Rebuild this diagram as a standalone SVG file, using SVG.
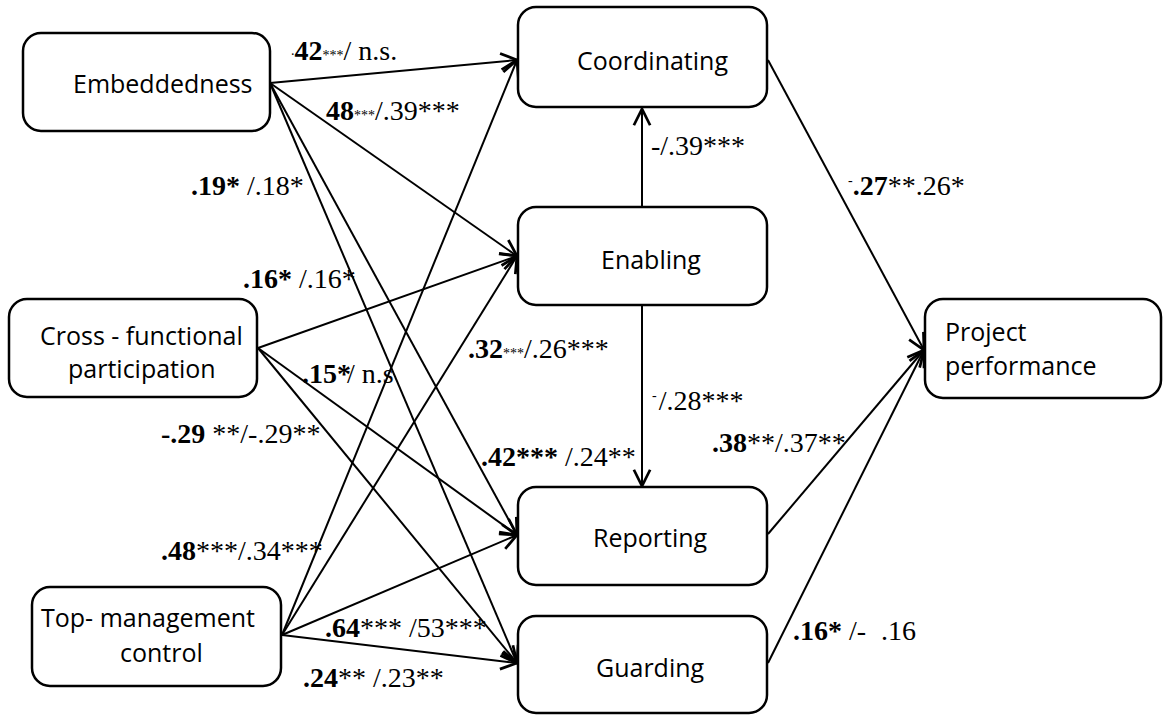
<svg xmlns="http://www.w3.org/2000/svg" width="1163" height="715" viewBox="0 0 1163 715">
<style>
.box{fill:#fff;stroke:#000;stroke-width:2.5}
.nt{font-family:"Open Sans","Noto Sans",sans-serif;font-size:25px;fill:#000}
.edge{stroke:#000;stroke-width:2;fill:none;marker-end:url(#arr)}
.lbl{font-family:"Liberation Serif","Times New Roman",serif;font-size:28px;fill:#000}
.b{font-weight:bold}
.s{font-size:14px}
</style>
<defs>
<marker id="arr" markerUnits="userSpaceOnUse" markerWidth="20" markerHeight="20" viewBox="-14 -8 16 16" refX="0" refY="0" orient="auto">
<path d="M-13,-6.5 L0,0 L-13,6.5" fill="none" stroke="#000" stroke-width="2.2"/>
</marker>
</defs>
<rect width="1163" height="715" fill="#fff"/>
<g id="connectors">
<line class="edge" x1="270" y1="83" x2="517" y2="60"/>
<line class="edge" x1="270" y1="83" x2="517" y2="256"/>
<line class="edge" x1="270" y1="83" x2="517" y2="535"/>
<line class="edge" x1="270" y1="83" x2="517" y2="663"/>
<line class="edge" x1="258" y1="348" x2="517" y2="256"/>
<line class="edge" x1="258" y1="348" x2="517" y2="535"/>
<line class="edge" x1="258" y1="348" x2="517" y2="663"/>
<line class="edge" x1="282" y1="635" x2="517" y2="60"/>
<line class="edge" x1="282" y1="635" x2="517" y2="256"/>
<line class="edge" x1="282" y1="635" x2="517" y2="535"/>
<line class="edge" x1="282" y1="635" x2="517" y2="663"/>
<line class="edge" x1="642" y1="207" x2="642" y2="109"/>
<line class="edge" x1="642" y1="305" x2="642" y2="486"/>
<line class="edge" x1="768" y1="60" x2="924" y2="350"/>
<line class="edge" x1="768" y1="534" x2="924" y2="350"/>
<line class="edge" x1="768" y1="663" x2="924" y2="350"/>
</g>
<g id="labels">
<text class="lbl" x="291" y="60"><tspan class="s" dy="-5">.</tspan><tspan class="b" dy="5">42</tspan><tspan class="s">***</tspan>/ n.s.</text>
<text class="lbl" x="326" y="120"><tspan class="b">48</tspan><tspan class="s">***</tspan>/.39***</text>
<text class="lbl" x="191" y="195"><tspan class="b">.19*</tspan> /.18*</text>
<text class="lbl" x="243" y="288"><tspan class="b">.16*</tspan> /.16*</text>
<text class="lbl" x="302" y="383"><tspan class="b">.15*</tspan><tspan dx="-4">/ n.s</tspan></text>
<text class="lbl" x="161" y="443"><tspan class="b">-.29</tspan> **/-.29**</text>
<text class="lbl" x="468" y="358"><tspan class="b">.32</tspan><tspan class="s">***</tspan>/.26***</text>
<text class="lbl" x="481" y="466"><tspan class="b">.42***</tspan> /.24**</text>
<text class="lbl" x="161" y="560"><tspan class="b">.48</tspan>***/.34***</text>
<text class="lbl" x="325" y="637"><tspan class="b">.64</tspan>*** /53***</text>
<text class="lbl" x="303" y="687"><tspan class="b">.24</tspan>** /.23**</text>
<text class="lbl" x="651" y="155">-/.39***</text>
<text class="lbl" x="652" y="410"><tspan class="s" dy="-10">-</tspan><tspan dy="10" dx="2">/.28***</tspan></text>
<text class="lbl" x="848" y="195"><tspan class="s" dy="-10">-</tspan><tspan class="b" dy="10">.27</tspan>**.26*</text>
<text class="lbl" x="712" y="452"><tspan class="b">.38</tspan>**/.37**</text>
<text class="lbl" x="793" y="640"><tspan class="b">.16*</tspan> /- <tspan dx="8">.16</tspan></text>
</g>
<g id="embeddedness">
<rect class="box" x="23" y="33" width="247" height="98" rx="18"/>
<text class="nt" x="73" y="93">Embeddedness</text>
</g>
<g id="cross-functional">
<rect class="box" x="9" y="299" width="248" height="98" rx="18"/>
<text class="nt" x="40" y="345">Cross - functional</text>
<text class="nt" x="68" y="378">participation</text>
</g>
<g id="top-management">
<rect class="box" x="32" y="587" width="249" height="99" rx="18"/>
<text class="nt" x="41" y="627">Top- management</text>
<text class="nt" x="120" y="662">control</text>
</g>
<g id="coordinating">
<rect class="box" x="518" y="7" width="249" height="100" rx="18"/>
<text class="nt" x="577" y="70">Coordinating</text>
</g>
<g id="enabling">
<rect class="box" x="518" y="207" width="249" height="98" rx="18"/>
<text class="nt" x="601" y="269">Enabling</text>
</g>
<g id="reporting">
<rect class="box" x="518" y="487" width="249" height="98" rx="18"/>
<text class="nt" x="593" y="547">Reporting</text>
</g>
<g id="guarding">
<rect class="box" x="518" y="616" width="249" height="97" rx="18"/>
<text class="nt" x="596" y="677">Guarding</text>
</g>
<g id="project-performance">
<rect class="box" x="925" y="299" width="236" height="99" rx="18"/>
<text class="nt" x="945" y="341">Project</text>
<text class="nt" x="945" y="375">performance</text>
</g>
</svg>
